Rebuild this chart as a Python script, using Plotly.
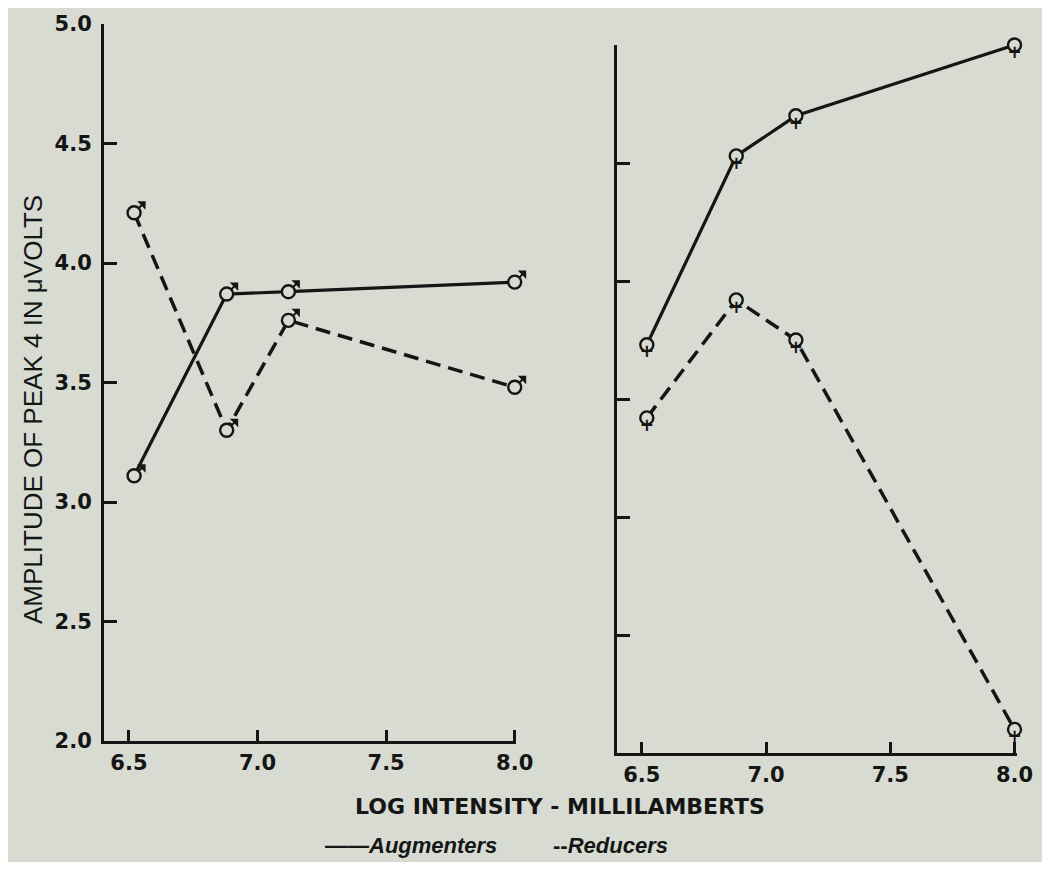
import plotly.graph_objects as go

# ---- data ----
x_vals = [6.52, 6.88, 7.12, 8.0]
male_augmenters = [3.11, 3.87, 3.88, 3.92]
male_reducers = [4.21, 3.30, 3.76, 3.48]
female_augmenters = [3.73, 4.53, 4.70, 5.0]
female_reducers = [3.42, 3.92, 3.75, 2.10]
series_names = ["Augmenters", "Reducers"]
x_ticks = [6.5, 7.0, 7.5, 8.0]
y_ticks = [2.0, 2.5, 3.0, 3.5, 4.0, 4.5, 5.0]

BG = "#d7dbd2"
INK = "#151515"
PAGE_W, PAGE_H, BODY = 1050, 870, 8
W, H = PAGE_W - 2 * BODY, PAGE_H - 2 * BODY


def fx(px):  # page pixel -> paper x fraction
    return (px - BODY) / W


def fy(py):  # page pixel -> paper y fraction
    return 1 - (py - BODY) / H


fig = go.Figure()


def add_series(xa, ya, yvals, dash, width):
    fig.add_trace(go.Scatter(
        x=x_vals, y=yvals, xaxis=xa, yaxis=ya, mode="lines+markers",
        line=dict(color=INK, width=width, dash=dash),
        marker=dict(symbol="circle", size=13, color=BG, line=dict(color=INK, width=2.4)),
        cliponaxis=False, showlegend=False, hoverinfo="skip"))


DASH = "15px,8px"
add_series("x", "y", male_augmenters, "solid", 3.2)
add_series("x", "y", male_reducers, DASH, 3.5)
add_series("x2", "y2", female_augmenters, "solid", 3.2)
add_series("x2", "y2", female_reducers, DASH, 3.5)

# sex symbols: male arrow (left panel), female cross (right panel)
for yvals in (male_augmenters, male_reducers):
    for xv, yv in zip(x_vals, yvals):
        fig.add_annotation(x=xv, y=yv, xref="x", yref="y", text="", showarrow=True,
                           ax=13, ay=-13, standoff=6, arrowside="start", arrowhead=2,
                           arrowsize=0.9, arrowwidth=2, arrowcolor=INK)
for yvals in (female_augmenters, female_reducers):
    fig.add_trace(go.Scatter(
        x=x_vals, y=yvals, xaxis="x2", yaxis="y2", mode="text",
        text=["<b>+</b>"] * len(yvals), textposition="bottom center",
        textfont=dict(family="DejaVu Sans", size=17, color=INK),
        cliponaxis=False, showlegend=False, hoverinfo="skip"))

tickfont_y = dict(family="DejaVu Sans", size=21, color=INK, weight="bold")
tickfont_x = dict(family="DejaVu Sans", size=21, color=INK, weight="bold")
common_x = dict(tickvals=x_ticks, tickformat=".1f", showline=True, automargin=False,
                linecolor=INK, linewidth=3, ticks="inside", ticklen=11, tickwidth=2.6,
                tickcolor=INK, showgrid=False, zeroline=False, tickfont=tickfont_x,
                ticklabelstandoff=1)
common_y = dict(range=[2.0, 5.0], tickvals=y_ticks, tickformat=".1f", showline=True,
                automargin=False,
                linecolor=INK, linewidth=3, ticks="inside", ticklen=13, tickwidth=2.6,
                tickcolor=INK, showgrid=False, zeroline=False, tickfont=tickfont_y,
                ticklabelstandoff=5)

fig.update_layout(
    template="none",
    width=W, height=H, paper_bgcolor=BG, plot_bgcolor=BG,
    margin=dict(l=0, r=0, t=0, b=0, autoexpand=False),
    xaxis=dict(common_x, range=[6.403, 8.005], domain=[fx(104), fx(516)], anchor="y"),
    yaxis=dict(common_y, domain=[fy(741), fy(24)], anchor="x"),
    xaxis2=dict(common_x, range=[6.40, 8.01], domain=[fx(617), fx(1017)], anchor="y2"),
    yaxis2=dict(common_y, domain=[fy(753), fy(45)], anchor="x2", showticklabels=False),
)

fig.add_annotation(text="AMPLITUDE OF PEAK 4 IN μVOLTS", xref="paper", yref="paper",
                   x=fx(33), y=fy(410), xanchor="center", yanchor="middle",
                   textangle=-90, showarrow=False,
                   font=dict(family="Liberation Sans", size=26, color=INK))
fig.add_annotation(text="LOG INTENSITY - MILLILAMBERTS", xref="paper", yref="paper",
                   x=fx(560), y=fy(806), xanchor="center", yanchor="middle", showarrow=False,
                   font=dict(family="DejaVu Sans", size=22, color=INK, weight="bold"))
fig.add_annotation(text="<b>——<i>%s</i></b>" % series_names[0], xref="paper", yref="paper",
                   x=fx(411), y=fy(845), xanchor="center", yanchor="middle", showarrow=False,
                   font=dict(family="Liberation Sans", size=22, color=INK))
fig.add_annotation(text="<b>--<i>%s</i></b>" % series_names[1], xref="paper", yref="paper",
                   x=fx(610), y=fy(845), xanchor="center", yanchor="middle", showarrow=False,
                   font=dict(family="Liberation Sans", size=22, color=INK))

fig.write_html("out.html")
